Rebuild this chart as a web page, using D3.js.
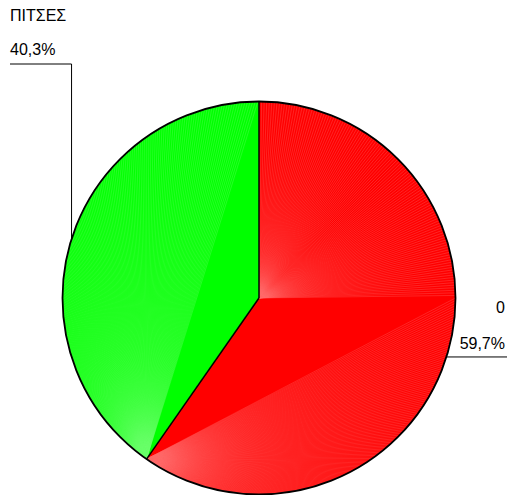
<!DOCTYPE html>
<html>
<head>
<meta charset="utf-8">
<script src="https://cdn.jsdelivr.net/npm/d3@7"></script>
<style>
  html, body { margin: 0; padding: 0; background: #fff; }
  svg { display: block; }
  text { font-family: "Liberation Sans", Arial, sans-serif; font-size: 16px; fill: #000; }
</style>
</head>
<body>
<svg id="chart" width="507" height="495"></svg>
<script>
// Pie data
const categories = ["0", "ΠΙΤΣΕΣ"];
const values = [59.7, 40.3];
const colors = ["#ff0000", "#00ff00"];
const sheenColors = ["#ff7070", "#70ff70"];

const W = 507, H = 495;
const cx = 259, cy = 298, R = 196.5;

const svg = d3.select("#chart");
const g = svg.append("g").attr("transform", `translate(${cx},${cy})`);

const pie = d3.pie().sort(null).value(d => d.value);
const arcs = pie(categories.map((c, i) => ({ name: c, value: values[i], i })));

const arcGen = d3.arc().innerRadius(0).outerRadius(R);
const pt = a => [R * Math.sin(a), -R * Math.cos(a)];
const fmt = v => d3.format(".1f")(v).replace(".", ",") + "%";

// Slice fills
g.selectAll("path.slice")
  .data(arcs)
  .join("path")
  .attr("class", "slice")
  .attr("d", arcGen)
  .attr("fill", d => colors[d.data.i]);

// Fan shading lines (triangulated look of the filled polygons)
const step = Math.PI / 240;
const fan = g.append("g").attr("stroke-width", 0.6).attr("fill", "none");
function fanLines(from, a0, a1, color, clipId) {
  const grp = fan.append("g").attr("clip-path", `url(#${clipId})`);
  const angles = d3.range(a0, a1, step);
  grp.selectAll("line")
    .data(angles)
    .join("line")
    .attr("x1", from[0]).attr("y1", from[1])
    .attr("x2", a => pt(a)[0]).attr("y2", a => pt(a)[1])
    .attr("stroke", color)
    .attr("stroke-opacity", 0.55);
}
const defs = svg.append("defs");
arcs.forEach((d, k) => {
  defs.append("clipPath").attr("id", "clip" + k)
    .append("path").attr("d", arcGen(d))
    .attr("transform", `translate(0,0)`);
});
// clip paths are in the translated group's coordinates
fan.attr("transform", null);

const red = arcs[0], green = arcs[1];
const P = pt(red.endAngle);
fanLines([0, 0], red.startAngle, Math.PI / 2, sheenColors[0], "clip0");
fanLines(P, Math.PI / 2, red.endAngle, sheenColors[0], "clip0");
fanLines(P, green.startAngle, green.endAngle, sheenColors[1], "clip1");

// Slice dividers and outline
g.selectAll("line.div")
  .data(arcs)
  .join("line")
  .attr("class", "div")
  .attr("x1", 0).attr("y1", 0)
  .attr("x2", d => pt(d.startAngle)[0])
  .attr("y2", d => pt(d.startAngle)[1])
  .attr("stroke", "#000").attr("stroke-width", 1.5);
g.append("circle").attr("r", R)
  .attr("fill", "none").attr("stroke", "#000").attr("stroke-width", 1.8);

// Labels with leader lines
const leader = svg.append("g").attr("stroke", "#000").attr("stroke-width", 1).attr("fill", "none");

// "0" on the right
{
  const m = (red.startAngle + red.endAngle) / 2;
  const p = pt(m);
  const x = cx + p[0], y = cy + p[1];
  leader.append("polyline").attr("points", `${x},${y} ${W},${y}`);
  svg.append("text").attr("x", 505).attr("y", y - 44).attr("text-anchor", "end").text(red.data.name);
  svg.append("text").attr("x", 505).attr("y", y - 8).attr("text-anchor", "end").text(fmt(red.data.value));
}
// "ΠΙΤΣΕΣ" on the upper left
{
  const m = (green.startAngle + green.endAngle) / 2;
  const p = pt(m);
  const x = cx + p[0], y = cy + p[1];
  const yTop = 64;
  leader.append("polyline").attr("points", `${x},${y} ${x},${yTop} 10,${yTop}`);
  svg.append("text").attr("x", 10).attr("y", 21).text(green.data.name);
  svg.append("text").attr("x", 10).attr("y", 55).text(fmt(green.data.value));
}
</script>
</body>
</html>
